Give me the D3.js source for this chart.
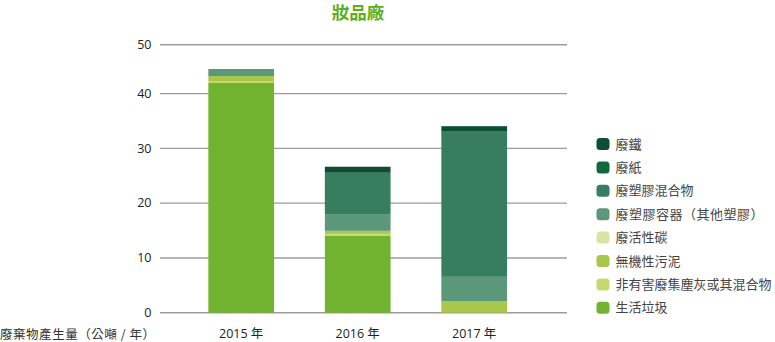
<!DOCTYPE html>
<html>
<head>
<meta charset="utf-8">
<script src="https://cdn.jsdelivr.net/npm/d3@7/dist/d3.min.js"></script>
<style>
  html, body { margin: 0; padding: 0; background: #fff; }
  svg { display: block; font-family: "Open Sans", "Noto Sans CJK TC", "Noto Sans", sans-serif; }
</style>
</head>
<body>
<svg id="chart" width="775" height="342"></svg>
<script>
// ---- data ----
const title = "妝品廠";
const years = ["2015 年", "2016 年", "2017 年"];
const seriesNames = ["廢鐵", "廢紙", "廢塑膠混合物", "廢塑膠容器（其他塑膠）", "廢活性碳", "無機性污泥", "非有害廢集塵灰或其混合物", "生活垃圾"];
const seriesColors = ["#0c4d33", "#0e6a3b", "#377d5f", "#5b9779", "#d7e4a3", "#a9c74b", "#c4d96f", "#71b22e"];
// values per series, one entry per year
const scrap   = [0, 1.1, 1.0];
const paper   = [0, 0, 0];
const plasticMixed = [0, 7.55, 26.5];
const plasticContainer = [1.43, 3.05, 4.45];
const carbon  = [0, 0, 0];
const sludge  = [1.02, 0.55, 2.1];
const dust    = [0.41, 0.4, 0];
const domestic = [42.17, 14.0, 0];
const seriesValues = [scrap, paper, plasticMixed, plasticContainer, carbon, sludge, dust, domestic];
const yTicks = [0, 10, 20, 30, 40, 50];
const yAxisTitle = "廢棄物產生量（公噸 / 年）";

// ---- layout ----
const svg = d3.select("#chart");
const x = d3.scaleBand().domain(years).range([182.95, 532.45]).paddingInner(0.436).paddingOuter(0.218);
const y = d3.scaleLinear().domain([0, 40, 50]).range([312.7, 93.6, 44.7]);

// title
svg.append("text").attr("x", 358).attr("y", 18.5).attr("text-anchor", "middle")
  .attr("font-size", 17.5).attr("font-weight", "bold").attr("fill", "#5cb020")
  .attr("font-family", "'Noto Sans CJK TC', sans-serif").text(title);

// gridlines
svg.append("g").selectAll("line").data(yTicks).join("line")
  .attr("x1", 160).attr("x2", 567)
  .attr("y1", d => y(d)).attr("y2", d => y(d))
  .attr("stroke", "#9c9c9c").attr("stroke-width", 1.4);

// y tick labels
svg.append("g").selectAll("text").data(yTicks).join("text")
  .attr("x", 151.5).attr("y", d => y(d) + 4.3).attr("text-anchor", "end")
  .attr("font-size", 12.5).attr("fill", "#222").text(d => d);

// stacked bars (bottom: last series)
const rows = years.map((yr, i) => {
  const o = { year: yr };
  seriesNames.forEach((s, k) => o[s] = seriesValues[k][i]);
  return o;
});
const stackKeys = seriesNames.slice().reverse();
const stacked = d3.stack().keys(stackKeys)(rows);
const colorOf = d3.scaleOrdinal().domain(seriesNames).range(seriesColors);

svg.append("g").selectAll("g").data(stacked).join("g")
  .attr("fill", d => colorOf(d.key))
  .selectAll("rect").data(d => d.filter(p => p[1] - p[0] > 0)).join("rect")
  .attr("x", d => x(d.data.year))
  .attr("width", x.bandwidth())
  .attr("y", d => y(d[1]))
  .attr("height", d => y(d[0]) - y(d[1]));

// x labels
svg.append("g").selectAll("text").data(years).join("text")
  .attr("x", d => x(d) + x.bandwidth() / 2).attr("y", 338).attr("text-anchor", "middle")
  .attr("font-size", 12.5).attr("fill", "#222").text(d => d);

// axis title
svg.append("text").attr("x", 0).attr("y", 339).attr("font-size", 12.5).attr("fill", "#333")
  .attr("font-family", "'Noto Sans CJK TC', sans-serif")
  .attr("textLength", 155).attr("lengthAdjust", "spacing").text(yAxisTitle);

// legend
const lg = svg.append("g").selectAll("g").data(seriesNames).join("g")
  .attr("transform", (d, i) => `translate(596.5, ${144 + i * 23.4})`);
lg.append("rect").attr("x", 0).attr("y", -6).attr("width", 13).attr("height", 12).attr("rx", 3.5)
  .attr("fill", d => colorOf(d));
lg.append("text").attr("x", 19).attr("y", 4.5).attr("font-size", 13).attr("fill", "#444")
  .attr("font-family", "'Noto Sans CJK TC', sans-serif")
  .each(function (d) { if (d.indexOf("（") >= 0) d3.select(this).attr("textLength", 148).attr("lengthAdjust", "spacing"); })
  .text(d => d);
</script>
</body>
</html>
